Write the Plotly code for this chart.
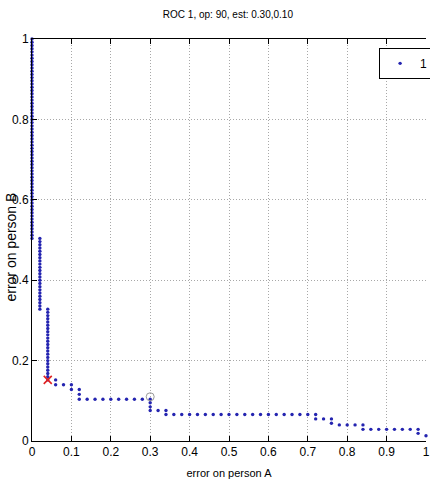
import plotly.graph_objects as go

# ---- data ----
col0_x = 0.0
col0_y = [0.504, 0.512, 0.520, 0.528, 0.536, 0.544, 0.552, 0.560, 0.568, 0.576,
          0.584, 0.592, 0.600, 0.608, 0.616, 0.624, 0.632, 0.640, 0.648, 0.656,
          0.664, 0.672, 0.680, 0.688, 0.696, 0.704, 0.712, 0.720, 0.728, 0.736,
          0.744, 0.752, 0.760, 0.768, 0.776, 0.784, 0.792, 0.800, 0.808, 0.816,
          0.824, 0.832, 0.840, 0.848, 0.856, 0.864, 0.872, 0.880, 0.888, 0.896,
          0.904, 0.912, 0.920, 0.928, 0.936, 0.944, 0.952, 0.960, 0.968, 0.976,
          0.984, 0.992, 1.000]
col1_x = 0.02
col1_y = [0.328, 0.336, 0.344, 0.352, 0.360, 0.368, 0.376, 0.384, 0.392, 0.400,
          0.408, 0.416, 0.424, 0.432, 0.440, 0.448, 0.456, 0.464, 0.472, 0.480,
          0.488, 0.496, 0.504]
col2_x = 0.04
col2_y = [0.152, 0.160, 0.168, 0.176, 0.184, 0.192, 0.200, 0.208, 0.216, 0.224,
          0.232, 0.240, 0.248, 0.256, 0.264, 0.272, 0.280, 0.288, 0.296, 0.304,
          0.312, 0.320, 0.328]
tail_x = [0.06, 0.06, 0.08, 0.10, 0.10, 0.12, 0.12, 0.12,
          0.14, 0.16, 0.18, 0.20, 0.22, 0.24, 0.26, 0.28,
          0.30, 0.30, 0.30, 0.30, 0.32, 0.34, 0.34,
          0.36, 0.38, 0.40, 0.42, 0.44, 0.46, 0.48, 0.50, 0.52, 0.54,
          0.56, 0.58, 0.60, 0.62, 0.64, 0.66, 0.68, 0.70,
          0.72, 0.72, 0.74, 0.76, 0.76, 0.78, 0.80, 0.82, 0.84, 0.84,
          0.86, 0.88, 0.90, 0.92, 0.94, 0.96, 0.98, 0.98, 1.00]
tail_y = [0.152, 0.140, 0.140, 0.140, 0.128, 0.128, 0.116, 0.104,
          0.104, 0.104, 0.104, 0.104, 0.104, 0.104, 0.104, 0.104,
          0.104, 0.095, 0.085, 0.076, 0.076, 0.076, 0.066,
          0.066, 0.066, 0.066, 0.066, 0.066, 0.066, 0.066, 0.066, 0.066, 0.066,
          0.066, 0.066, 0.066, 0.066, 0.066, 0.066, 0.066, 0.066,
          0.066, 0.055, 0.055, 0.055, 0.044, 0.040, 0.040, 0.040, 0.040, 0.029,
          0.029, 0.029, 0.029, 0.029, 0.029, 0.029, 0.029, 0.019, 0.013]
op_point = (0.04, 0.152)
est_point = (0.30, 0.11)

x_ticks = [0, 0.1, 0.2, 0.3, 0.4, 0.5, 0.6, 0.7, 0.8, 0.9, 1]
x_tick_text = ["0", "0.1", "0.2", "0.3", "0.4", "0.5", "0.6", "0.7", "0.8", "0.9", "1"]
y_ticks = [0, 0.2, 0.4, 0.6, 0.8, 1]
y_tick_text = ["0", "0.2", "0.4", "0.6", "0.8", "1"]

all_x = [col0_x] * len(col0_y) + [col1_x] * len(col1_y) + [col2_x] * len(col2_y) + tail_x
all_y = col0_y + col1_y + col2_y + tail_y

NARROW = "Liberation Sans Narrow, Arial Narrow, sans-serif"
BLUE = "#2424b0"

fig = go.Figure()
fig.add_trace(go.Scatter(
    x=all_x, y=all_y, mode="markers", name="1",
    marker=dict(symbol="circle", size=3.4, color=BLUE, line=dict(width=0)),
    cliponaxis=False))
fig.add_trace(go.Scatter(
    x=[est_point[0]], y=[est_point[1]], mode="markers", showlegend=False,
    marker=dict(symbol="circle-open", size=8, color="#9a9a9a", line=dict(width=1)),
    cliponaxis=False))
fig.add_trace(go.Scatter(
    x=[op_point[0]], y=[op_point[1]], mode="markers", showlegend=False,
    marker=dict(symbol="x-thin", size=8, color="#e02020", line=dict(width=1.6, color="#e02020")),
    cliponaxis=False))

axis_common = dict(
    range=[0, 1], showline=True, linecolor="black", linewidth=1,
    ticks="inside", ticklen=5, tickcolor="black",
    showgrid=True, gridcolor="#a8a8a8", gridwidth=1, griddash="1px,2px",
    zeroline=False, tickfont=dict(family=NARROW, size=12, color="black"),
)

fig.update_xaxes(**axis_common, tickvals=x_ticks, ticktext=x_tick_text, mirror="ticks",
                 title=dict(text="error on person A", font=dict(family=NARROW, size=11, color="black"),
                            standoff=10))
fig.update_yaxes(**axis_common, tickvals=y_ticks, ticktext=y_tick_text, mirror=False,
                 ticklabelstandoff=0)

fig.add_annotation(
    text="error on person B", textangle=-90, showarrow=False,
    xref="paper", yref="paper", x=-0.054, y=0.483, xanchor="center", yanchor="middle",
    font=dict(family="Arial, Liberation Sans, sans-serif", size=14, color="black"))

fig.update_layout(
    width=430, height=494,
    margin=dict(l=32, r=4, t=39, b=53, autoexpand=False),
    paper_bgcolor="white", plot_bgcolor="white",
    title=dict(text="ROC 1, op: 90, est: 0.30,0.10", x=0.53, xanchor="center", y=0.97, yanchor="middle",
               font=dict(family=NARROW, size=10, color="black")),
    legend=dict(x=0.881, y=0.978, xanchor="left", yanchor="top", bordercolor="black", borderwidth=1,
                bgcolor="white", font=dict(family=NARROW, size=12, color="black"),
                itemwidth=30, tracegroupgap=0),
    showlegend=True,
)

fig.write_html("out.html")
